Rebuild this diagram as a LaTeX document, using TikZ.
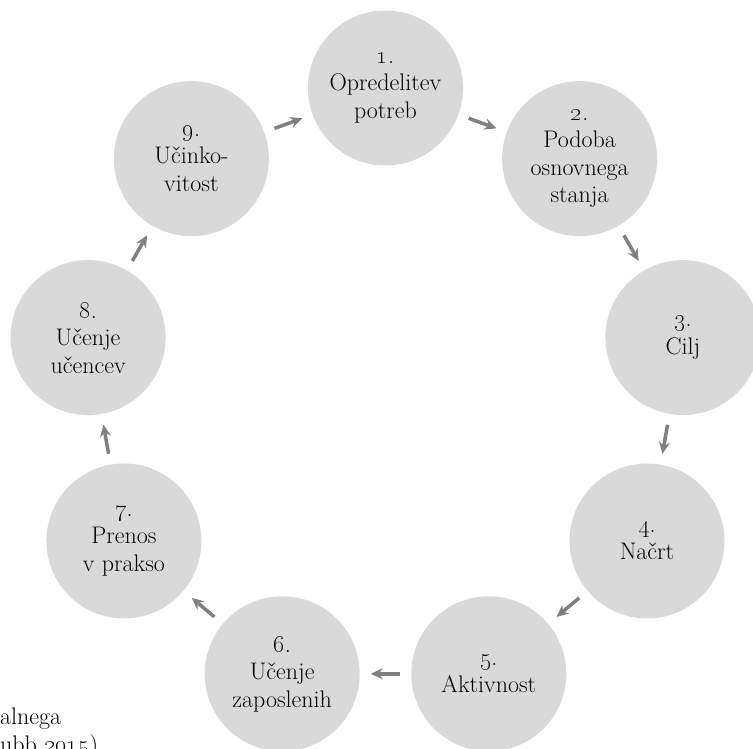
\documentclass[tikz,border=0pt]{standalone}
\usetikzlibrary{arrows.meta}
\definecolor{stagegray}{HTML}{D9D9D9}
\definecolor{arrowgray}{HTML}{808080}
\newcommand{\osn}[1]{\oldstylenums{#1}}

\begin{document}
\begin{tikzpicture}
            [x=1pt,y=1pt,
             stage/.style ={circle,fill=stagegray,minimum size=155pt,inner sep=0pt,outer sep=0pt,align=center,font=\fontsize{24}{27.5}\selectfont},
             arr/.style ={draw=arrowgray,line width=3.5pt,-{Stealth[length=12pt,width=11pt,inset=4pt]},shorten <=11pt,shorten >=11pt},
             capt/.style ={inner sep=0pt,anchor=base west,font=\fontsize{24}{27.5}\selectfont}]
            \useasboundingbox (-385.5,-359) rectangle (367.5,390);
            \node[stage] (a) at (90:302pt) {\osn{1}.\\Opredelitev\\potreb};
            \node[stage] (b) at (50:302pt) {\osn{2}.\\Podoba\\osnovnega\\stanja};
            \node[stage] (c) at (10:302pt) {\osn{3}.\\Cilj};
            \node[stage] (d) at (-30:302pt) {\osn{4}.\\Načrt};
            \node[stage] (e) at (-70:302pt) {\osn{5}.\\Aktivnost};
            \node[stage] (f) at (-110:302pt) {\osn{6}.\\Učenje\\zaposlenih};
            \node[stage] (g) at (-150:302pt) {\osn{7}.\\Prenos\\v prakso};
            \node[stage] (h) at (170:302pt) {\osn{8}.\\Učenje\\učencev};
            \node[stage] (i) at (130:302pt) {\osn{9}.\\Učinko-\\vitost};
            \draw[arr] (a) to (b);
            \draw[arr] (b) to (c);
            \draw[arr] (c) to (d);
            \draw[arr] (d) to (e);
            \draw[arr] (e) to (f);
            \draw[arr] (f) to (g);
            \draw[arr] (g) to (h);
            \draw[arr] (h) to (i);
            \draw[arr] (i) to (a);
            \node[capt] (cap1) at (-385.5,-335) {alnega};
            \node[capt] (cap2) at (-385.5,-362.5) {ubb \osn{2015})};
        \end{tikzpicture}
\end{document}
